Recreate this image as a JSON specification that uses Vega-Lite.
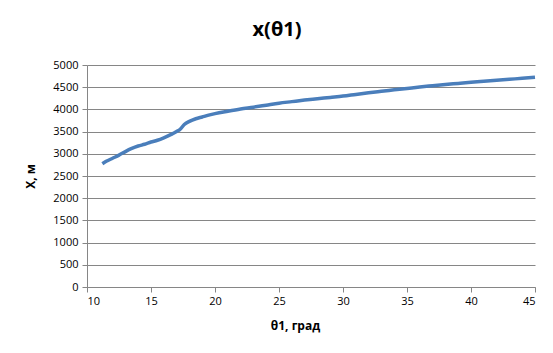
{
  "$schema": "https://vega.github.io/schema/vega-lite/v6.json",
  "autosize": "none",
  "width": 448,
  "height": 222,
  "padding": {"left": 87, "top": 65, "right": 18, "bottom": 66},
  "background": "white",
  "title": {"text": "x(θ1)", "font": "Open Sans", "fontSize": 20, "fontWeight": "bold", "color": "#000000", "offset": 19, "anchor": "middle", "dx": -34},
  "data": {"values": [
    {"t": 11.2, "x": 2775}, {"t": 11.5, "x": 2830}, {"t": 12, "x": 2900}, {"t": 12.5, "x": 2970},
    {"t": 13, "x": 3050}, {"t": 13.5, "x": 3120}, {"t": 14, "x": 3175}, {"t": 14.5, "x": 3215},
    {"t": 15, "x": 3265}, {"t": 15.5, "x": 3305}, {"t": 16, "x": 3360}, {"t": 16.5, "x": 3425},
    {"t": 17, "x": 3500}, {"t": 17.3, "x": 3560}, {"t": 17.6, "x": 3660}, {"t": 18, "x": 3730},
    {"t": 18.5, "x": 3790}, {"t": 19, "x": 3830}, {"t": 19.5, "x": 3870}, {"t": 20, "x": 3905},
    {"t": 21, "x": 3960}, {"t": 22, "x": 4010}, {"t": 23, "x": 4050}, {"t": 24, "x": 4095},
    {"t": 25, "x": 4140}, {"t": 26, "x": 4175}, {"t": 27, "x": 4210}, {"t": 28, "x": 4240},
    {"t": 29, "x": 4270}, {"t": 30, "x": 4300}, {"t": 31, "x": 4338}, {"t": 32, "x": 4375},
    {"t": 33, "x": 4408}, {"t": 34, "x": 4440}, {"t": 35, "x": 4472}, {"t": 36, "x": 4505},
    {"t": 37, "x": 4533}, {"t": 38, "x": 4560}, {"t": 39, "x": 4585}, {"t": 40, "x": 4610},
    {"t": 41, "x": 4633}, {"t": 42, "x": 4655}, {"t": 43, "x": 4678}, {"t": 44, "x": 4700},
    {"t": 45, "x": 4725}
  ]},
  "mark": {"type": "line", "color": "#4a7ebb", "strokeWidth": 3.5, "interpolate": "monotone"},
  "encoding": {
    "x": {
      "field": "t", "type": "quantitative",
      "scale": {"domain": [10, 45], "nice": false, "zero": false},
      "axis": {
        "title": "θ1, град", "values": [10, 15, 20, 25, 30, 35, 40, 45], "format": "d",
        "grid": false, "domainColor": "#868686", "tickColor": "#868686", "tickSize": 5,
        "labelFont": "Open Sans", "labelFontSize": 11, "labelColor": "#000000", "labelPadding": 3,
        "titleFont": "Open Sans", "titleFontSize": 12, "titleFontWeight": "bold", "titleColor": "#000000",
        "titleX": 208, "titleY": 38, "titleAlign": "center", "titleBaseline": "middle"
      }
    },
    "y": {
      "field": "x", "type": "quantitative",
      "scale": {"domain": [0, 5000], "nice": false},
      "axis": {
        "title": "X, м", "values": [0, 500, 1000, 1500, 2000, 2500, 3000, 3500, 4000, 4500, 5000], "format": "d",
        "grid": true, "gridColor": "#868686", "gridWidth": 1,
        "domainColor": "#868686", "tickColor": "#868686", "tickSize": 5,
        "labelFont": "Open Sans", "labelFontSize": 11, "labelColor": "#000000", "labelPadding": 4,
        "titleFont": "Open Sans", "titleFontSize": 12, "titleFontWeight": "bold", "titleColor": "#000000",
        "titleX": -57, "titleY": 111, "titleAlign": "center", "titleBaseline": "middle", "titleAngle": -90
      }
    }
  },
  "config": {"view": {"stroke": null}}
}
